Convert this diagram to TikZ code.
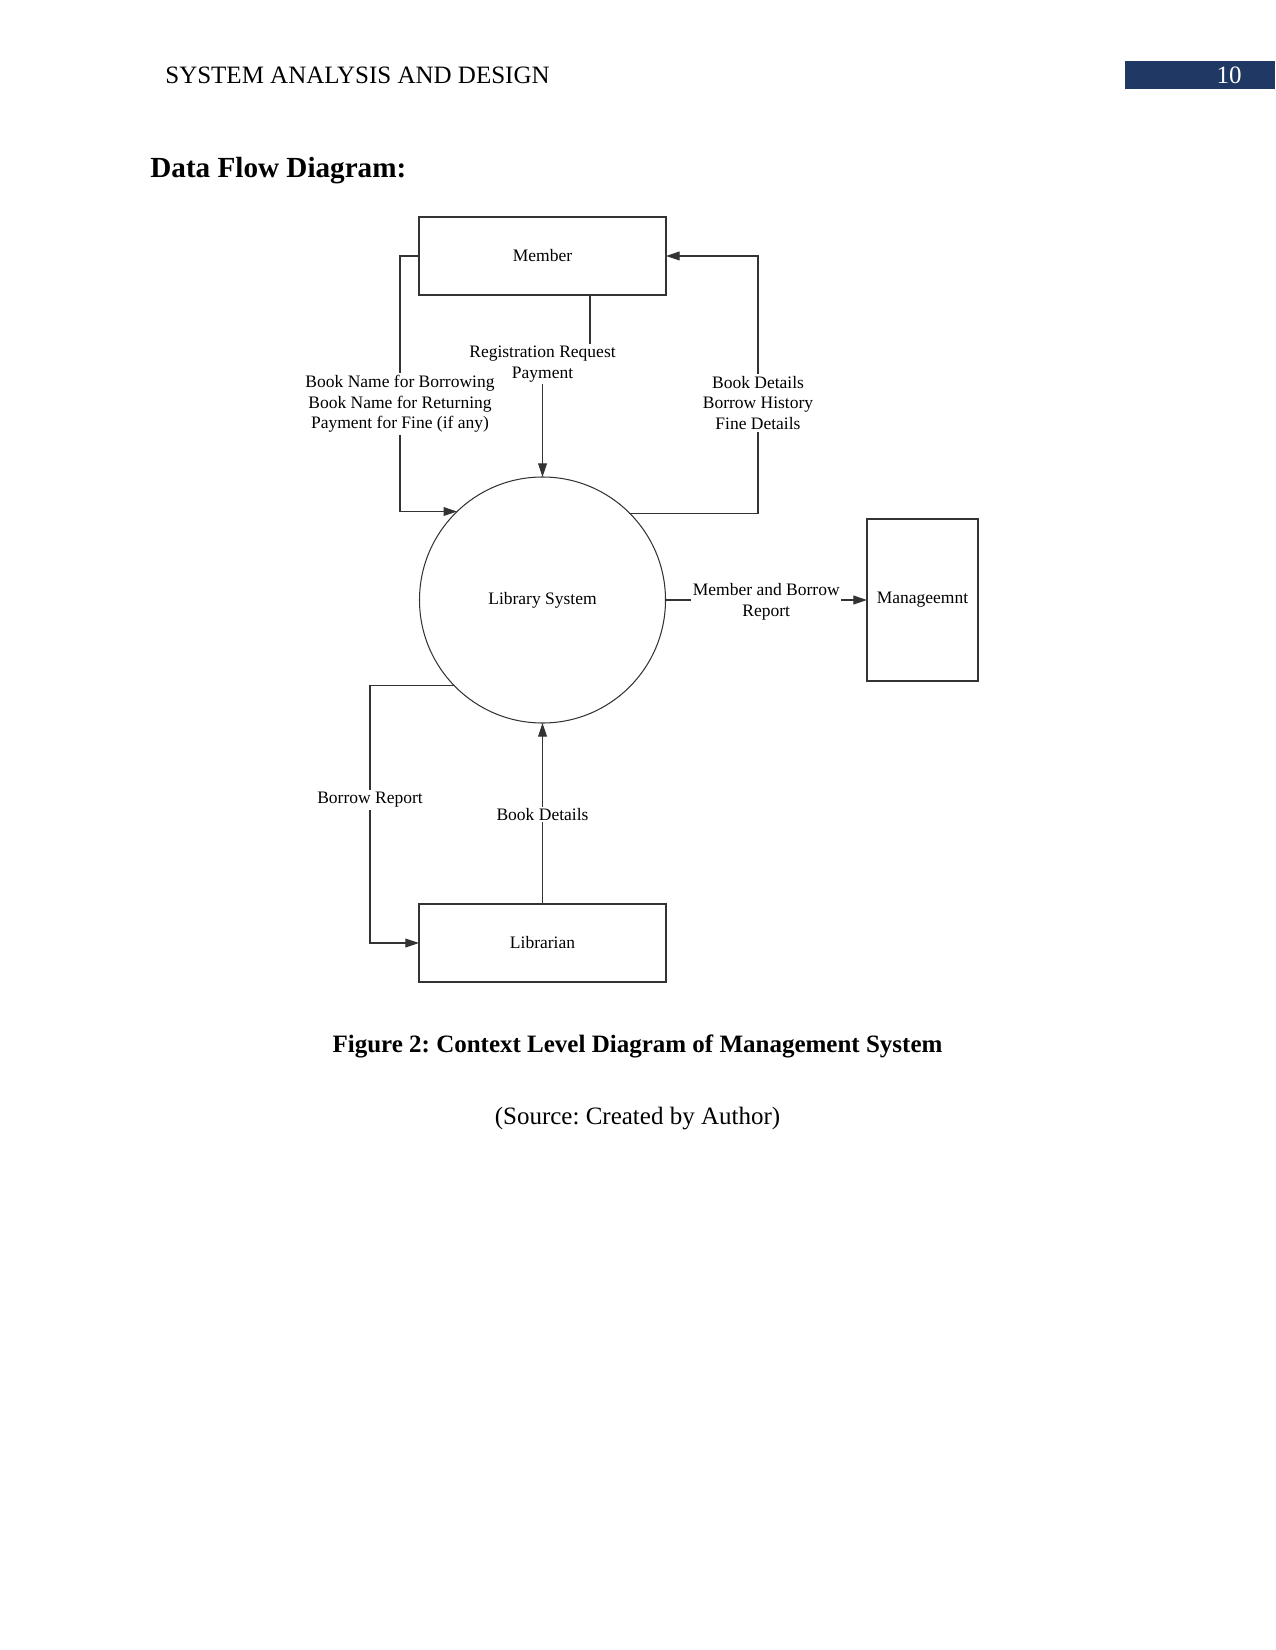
\documentclass[tikz,border=0pt]{standalone}
\usepackage{fontspec}
\setmainfont{Liberation Serif}
\usetikzlibrary{arrows.meta}
\definecolor{hdrblue}{HTML}{1F3864}
\frenchspacing
\begin{document}
\begin{tikzpicture}[x=0.48pt,y=-0.48pt,
  dfont/.style={font=\fontsize{8.4}{9.9}\selectfont},
  ent/.style={draw=black!80, line width=0.5pt, inner sep=0pt, outer sep=0pt, dfont},
  proc/.style={circle, draw=black!80, line width=0.5pt, minimum size=118.08pt, inner sep=0pt, outer sep=0pt, dfont},
  lbl/.style={fill=white, inner sep=0.8pt, align=center, dfont},
  flow/.style={draw=black!80, line width=0.5pt},
  arr/.style={flow, -{Triangle[length=6.5pt,width=4.2pt]}}]
\useasboundingbox[fill=white] (0,0) rectangle (1275,1650);

% header
\node[anchor=base west, font=\fontsize{12}{14}\selectfont] (hdr) at (158,84) {SYSTEM ANALYSIS AND DESIGN};
\node[fill=hdrblue, minimum width=72pt, minimum height=13.44pt, inner sep=0pt, outer sep=0pt, anchor=north west] (pbox) at (1125,61) {};
\node[anchor=base east, text=white, font=\fontsize{12}{14}\selectfont] (pnum) at (1249,84) {10};
\node[anchor=base west, font=\fontsize{14}{16}\selectfont\bfseries] (title) at (143,178) {Data Flow Diagram:};

% entities
\node[ent, minimum width=118.56pt, minimum height=37.44pt] (member) at (542.5,256) {Member};
\node[proc] (lib) at (542.5,600) {Library System};
\node[ent, minimum width=53.28pt, minimum height=77.76pt] (mgmt) at (922.5,600) {Manageemnt};
\node[ent, minimum width=118.56pt, minimum height=37.44pt] (librarian) at (542.5,943) {Librarian};

% labels
\node[lbl] (reg) at (542.5,364) {Registration Request\\Payment};
\node[lbl] (bl1) at (400,404) {Book Name for Borrowing\\Book Name for Returning\\Payment for Fine (if any)};
\node[lbl] (bl2) at (758,403) {Book Details\\Borrow History\\Fine Details};
\node[lbl] (br) at (370,800) {Borrow Report};

% connectors
\draw[flow] (member.west) -| (bl1.north);
\draw[arr] (bl1.south) |- (lib.134.5);

\coordinate (mx) at (590,0);
\draw[flow] (member.south -| mx) -- (reg.north -| mx);
\draw[arr] (reg.south) -- (lib.north);

\draw[flow] (lib.45.5) -| (bl2.south);
\draw[arr] (bl2.north) |- (member.east);

\draw[arr] (lib.east) -- node[lbl, yshift=-0.9pt] (mbr) {Member and Borrow\\Report} (mgmt.west);

\draw[flow] (lib.224.3) -| (br.north);
\draw[arr] (br.south) |- (librarian.west);

\draw[arr] (librarian.north) -- node[lbl, yshift=-0.5pt] (bd) {Book Details} (lib.south);

% caption
\node[anchor=base, font=\fontsize{12}{14}\selectfont\bfseries] (cap) at (637.5,1052) {Figure 2: Context Level Diagram of Management System};
\node[anchor=base, font=\fontsize{12}{14}\selectfont] (src) at (637.5,1124) {(Source: Created by Author)};
\end{tikzpicture}
\end{document}
